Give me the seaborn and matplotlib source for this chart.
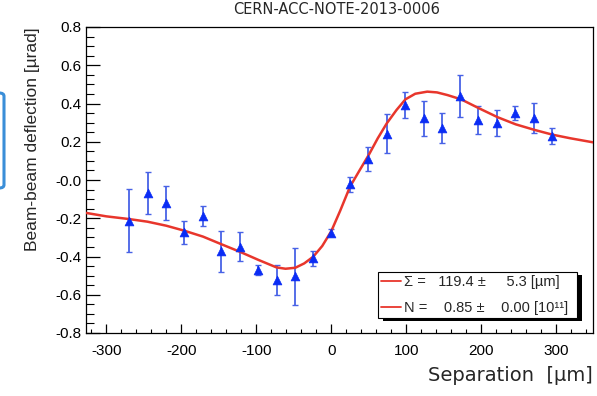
import numpy as np
import pandas as pd
import matplotlib
matplotlib.use("Agg")
import matplotlib.pyplot as plt
import seaborn as sns
from matplotlib.ticker import MultipleLocator, FixedLocator, FixedFormatter
from matplotlib.lines import Line2D
from matplotlib.patches import FancyBboxPatch, Rectangle
from matplotlib.transforms import IdentityTransform

# ---- data ----
separation = [-270, -245, -220, -196, -171, -147, -122, -98, -73, -49, -24, 0,
              25, 49, 74, 98, 123, 147, 172, 196, 221, 245, 270, 294]
deflection = [-0.214, -0.070, -0.119, -0.274, -0.188, -0.373, -0.349, -0.469,
              -0.523, -0.504, -0.410, -0.275, -0.023, 0.110, 0.242, 0.392,
              0.322, 0.274, 0.440, 0.314, 0.298, 0.350, 0.324, 0.230]
deflection_err = [0.165, 0.110, 0.090, 0.062, 0.050, 0.107, 0.077, 0.027,
                  0.080, 0.150, 0.040, 0.020, 0.040, 0.065, 0.103, 0.070,
                  0.090, 0.078, 0.110, 0.073, 0.066, 0.035, 0.077, 0.040]

fit_x = [-327, -300, -270, -245, -220, -196, -171, -147, -122, -97, -73, -61,
         -48, -36, -24, -12, 0, 12, 25, 38, 50, 62, 74, 87, 99, 112, 128, 141,
         155, 173, 197, 222, 246, 271, 295, 319, 349]
fit_y = [-0.172, -0.190, -0.204, -0.218, -0.239, -0.265, -0.296, -0.335,
         -0.375, -0.418, -0.457, -0.464, -0.459, -0.436, -0.401, -0.345,
         -0.268, -0.160, -0.035, 0.052, 0.131, 0.218, 0.296, 0.366, 0.422,
         0.451, 0.462, 0.458, 0.444, 0.422, 0.375, 0.328, 0.291, 0.262,
         0.237, 0.218, 0.197]

y_ticks = [-0.8, -0.6, -0.4, -0.2, 0.0, 0.2, 0.4, 0.6, 0.8]
y_tick_labels = ["-0.8", "-0.6", "-0.4", "-0.2", "-0.0", "0.2", "0.4", "0.6", "0.8"]
x_ticks = [-300, -200, -100, 0, 100, 200, 300]
x_tick_labels = ["-300", "-200", "-100", "0", "100", "200", "300"]

legend_labels = ["\u03a3 =   119.4 \u00b1     5.3 [\u00b5m]",
                 "N =    0.85 \u00b1    0.00 [10\u00b9\u00b9]"]

title_text = "CERN-ACC-NOTE-2013-0006"

# ---- styling ----
sns.set_theme(style="white")
plt.rcParams["font.family"] = ["Liberation Sans", "DejaVu Sans"]

RED = "#e8362c"
BLUE = "#0a2cf5"
EBLUE = "#4862e6"

fig = plt.figure(figsize=(5.97, 3.96), dpi=100)
ax = fig.add_axes([86 / 597, 1 - 333 / 396, (593 - 86) / 597, (333 - 27) / 396])

df_pts = pd.DataFrame({"sep": separation, "defl": deflection, "err": deflection_err})
df_fit = pd.DataFrame({"sep": fit_x, "defl": fit_y})

ax.errorbar(df_pts["sep"], df_pts["defl"], yerr=df_pts["err"], fmt="none",
            ecolor=EBLUE, elinewidth=1.3, capsize=2.2, capthick=1.0, zorder=2)
sns.lineplot(data=df_fit, x="sep", y="defl", ax=ax, color=RED, linewidth=1.8,
             zorder=3, legend=False)
sns.scatterplot(data=df_pts, x="sep", y="defl", ax=ax, marker="^", s=40,
                color=BLUE, edgecolor=BLUE, linewidth=0.5, zorder=4, legend=False)

ax.set_xlim(-327, 349)
ax.set_ylim(-0.8, 0.8)

ax.yaxis.set_major_locator(FixedLocator(y_ticks))
ax.yaxis.set_major_formatter(FixedFormatter(y_tick_labels))
ax.yaxis.set_minor_locator(MultipleLocator(0.05))
ax.xaxis.set_major_locator(FixedLocator(x_ticks))
ax.xaxis.set_major_formatter(FixedFormatter(x_tick_labels))
ax.xaxis.set_minor_locator(MultipleLocator(20))

ax.tick_params(axis="both", which="both", direction="in", colors="black",
               left=True, bottom=True, top=False, right=False)
ax.tick_params(axis="y", which="major", length=10, width=0.9, labelsize=11, pad=3)
ax.tick_params(axis="y", which="minor", length=5.5, width=0.8)
ax.tick_params(axis="x", which="major", length=6.5, width=0.9, labelsize=11, pad=8)
ax.tick_params(axis="x", which="minor", length=3.2, width=0.8)

for sp in ax.spines.values():
    sp.set_color("black")
    sp.set_linewidth(0.9)

ax.set_ylabel("Beam-beam deflection [\u00b5rad]", fontsize=12.5)
ax.yaxis.set_label_coords(-0.091, 0.633)
ax.set_xlabel("Separation  [\u00b5m]", fontsize=14, loc="right",
              family=["DejaVu Sans"])
ax.xaxis.set_label_coords(1.0, -0.108)

fig.text(337 / 597, 1 - 10 / 396, title_text, ha="center", va="center",
         fontsize=10.5, family=["DejaVu Sans"])

handles = [Line2D([], [], color=RED, linewidth=1.3) for _ in legend_labels]
leg = ax.legend(handles, legend_labels, loc="lower left",
                bbox_to_anchor=(0.576, 0.049, 0.392, 0.154), mode="expand",
                fontsize=10.5, frameon=True, fancybox=False, framealpha=1.0,
                handlelength=1.4, handletextpad=0.2,
                labelspacing=0.85, borderpad=0.2, borderaxespad=0.0)
leg.get_frame().set_edgecolor("black")
leg.get_frame().set_linewidth(0.8)
leg.get_frame().set_facecolor("white")
leg.get_frame().set_alpha(1.0)
leg.set_zorder(10)

# solid black drop shadow behind the legend box
fig.canvas.draw()
bb = leg.get_window_extent()
shadow = Rectangle((bb.x0 + 5, bb.y0 - 3), bb.width, bb.height,
                   transform=IdentityTransform(), facecolor="black",
                   edgecolor="none", zorder=9.5, clip_on=False)
ax.add_artist(shadow)

# partial blue frame at the left edge of the reference image
box = FancyBboxPatch((-25 / 597, 1 - 188 / 396), 29 / 597, 95 / 396,
                     boxstyle="round,pad=0,rounding_size=0.008",
                     transform=fig.transFigure, facecolor="none",
                     edgecolor="#3a8ed8", linewidth=2.2, clip_on=False)
fig.patches.append(box)

fig.savefig("out.png", dpi=100)
